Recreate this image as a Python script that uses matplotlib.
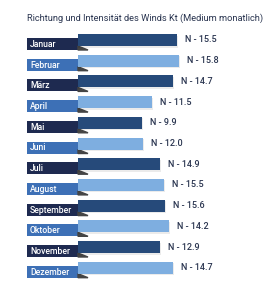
import matplotlib.pyplot as plt
from matplotlib.patches import Polygon

# Data
months = ['Januar', 'Februar', 'März', 'April', 'Mai', 'Juni', 'Juli',
          'August', 'September', 'Oktober', 'November', 'Dezember']
values = [15.5, 15.8, 14.7, 11.5, 9.9, 12.0, 14.9, 15.5, 15.6, 14.2, 12.9, 14.7]
# drawn bar lengths (the graphic is not to scale with the values)
bar_len = [99, 101, 95, 74, 64, 65, 82, 86, 87, 91, 82, 95]

title = 'Richtung und Intensität des Winds Kt (Medium monatlich)'

fig = plt.figure(figsize=(2.74, 2.97), dpi=100)
ax = fig.add_axes([0, 0, 1, 1])
ax.set_xlim(0, 274)
ax.set_ylim(297, 0)
ax.axis('off')

font = ['Roboto', 'DejaVu Sans']
bar_colors = ['#264a7a', '#7eaee0']
box_colors = ['#1e2a50', '#3d70b6']

y0, step = 40, 20.7
ys = [y0 + i * step for i in range(len(months))]
box_left, bar_left = 27, 78

# label boxes (offset down, behind bars)
ax.barh([y + 4 for y in ys], [bar_left - box_left] * len(ys), left=box_left,
        height=12, color=[box_colors[i % 2] for i in range(len(ys))], zorder=2)
for y in ys:
    ax.add_patch(Polygon([(bar_left, y + 6), (bar_left + 10, y + 10), (bar_left, y + 10)],
                         closed=True, color='#444444', zorder=2))
# faint shadow under the bars
ax.barh([y + 1.5 for y in ys], [b + 1 for b in bar_len], left=bar_left,
        height=12, color='#000000', alpha=0.08, zorder=2.5)

# main bars
ax.barh(ys, bar_len, left=bar_left, height=12,
        color=[bar_colors[i % 2] for i in range(len(ys))], zorder=3)

for i, (y, m, v, b) in enumerate(zip(ys, months, values, bar_len)):
    ax.text(box_left + 3, y + 4.5, m, color='white', fontsize=6.2,
            family=font, fontweight='medium', va='center', ha='left', zorder=4)
    ax.text(bar_left + b + 8, y, f'N - {v:.1f}', color='#2a3550', fontsize=6.5,
            family=font, fontweight='medium', va='center', ha='left', zorder=4)

ax.text(27, 18, title, color='#2a3550', fontsize=6.7, family=font,
        va='center', ha='left')

fig.savefig('out.png', dpi=100)
